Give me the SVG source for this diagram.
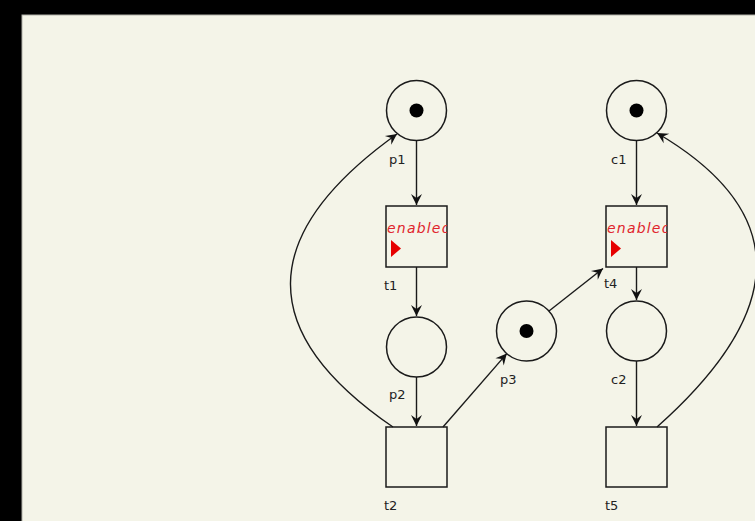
<svg xmlns="http://www.w3.org/2000/svg" width="755" height="521" viewBox="0 0 755 521">
<defs>
<marker id="arr" viewBox="-12 -6 14 12" markerWidth="14" markerHeight="12" refX="0" refY="0" orient="auto" markerUnits="userSpaceOnUse">
<path d="M0,0 L-11,-5.5 L-7,0 L-11,5.5 Z" fill="#111"/>
</marker>
<clipPath id="c1clip"><rect x="386" y="206" width="61" height="61"/></clipPath>
<clipPath id="c4clip"><rect x="606" y="206" width="61" height="61"/></clipPath>
</defs>
<style>
.place{fill:none;stroke:#1a1a1a;stroke-width:1.5}
.trans{fill:none;stroke:#1a1a1a;stroke-width:1.5}
.tok{fill:#000}
.lbl{font-family:"DejaVu Sans",Verdana,sans-serif;font-size:13px;fill:#222}
.en{font-family:"DejaVu Sans",Verdana,sans-serif;font-size:14px;font-style:italic;fill:#e0242c;letter-spacing:1.2px}
.tri{fill:#e60000}
.arc{fill:none;stroke:#1a1a1a;stroke-width:1.4;marker-end:url(#arr)}
</style>
<rect x="0" y="0" width="755" height="521" fill="#000"/>
<rect x="22" y="15" width="740" height="515" fill="#f4f4e8" stroke="#b0b0a8" stroke-width="1"/>

<g id="connectors">
<path class="arc" d="M416.5,141 L416.5,205"/>
<path class="arc" d="M416.5,267 L416.5,316"/>
<path class="arc" d="M416.5,377 L416.5,426"/>
<path class="arc" d="M393,427 Q186,285 397,134"/>
<path class="arc" d="M443,427 L506.8,353.6"/>
<path class="arc" d="M549,311 L603,268.5"/>
<path class="arc" d="M636.5,141 L636.5,205"/>
<path class="arc" d="M636.5,267 L636.5,300"/>
<path class="arc" d="M636.5,361 L636.5,426"/>
<path class="arc" d="M657,427 Q856,250 657,133"/>
</g>

<g id="p1">
<circle class="place" cx="416.5" cy="110.5" r="30"/>
<circle class="tok" cx="416.5" cy="110.5" r="7"/>
<text class="lbl" x="389" y="164">p1</text>
</g>
<g id="t1">
<rect class="trans" x="386" y="206" width="61" height="61"/>
<g clip-path="url(#c1clip)">
<text class="en" x="387" y="233">enabled</text>
</g>
<polygon class="tri" points="391,240 401,248.5 391,257"/>
<text class="lbl" x="384" y="290">t1</text>
</g>
<g id="p2">
<circle class="place" cx="416.5" cy="347" r="30"/>
<text class="lbl" x="389" y="399">p2</text>
</g>
<g id="t2">
<rect class="trans" x="386" y="427" width="61" height="60"/>
<text class="lbl" x="384" y="510">t2</text>
</g>
<g id="p3">
<circle class="place" cx="526.5" cy="331" r="30"/>
<circle class="tok" cx="526.5" cy="331" r="7"/>
<text class="lbl" x="500" y="384">p3</text>
</g>
<g id="c1">
<circle class="place" cx="636.5" cy="110.5" r="30"/>
<circle class="tok" cx="636.5" cy="110.5" r="7"/>
<text class="lbl" x="611" y="164">c1</text>
</g>
<g id="t4">
<rect class="trans" x="606" y="206" width="61" height="61"/>
<g clip-path="url(#c4clip)">
<text class="en" x="607" y="233">enabled</text>
</g>
<polygon class="tri" points="611,240 621,248.5 611,257"/>
<text class="lbl" x="604" y="288">t4</text>
</g>
<g id="c2">
<circle class="place" cx="636.5" cy="331" r="30"/>
<text class="lbl" x="611" y="384">c2</text>
</g>
<g id="t5">
<rect class="trans" x="606" y="427" width="61" height="60"/>
<text class="lbl" x="605" y="510">t5</text>
</g>
</svg>
